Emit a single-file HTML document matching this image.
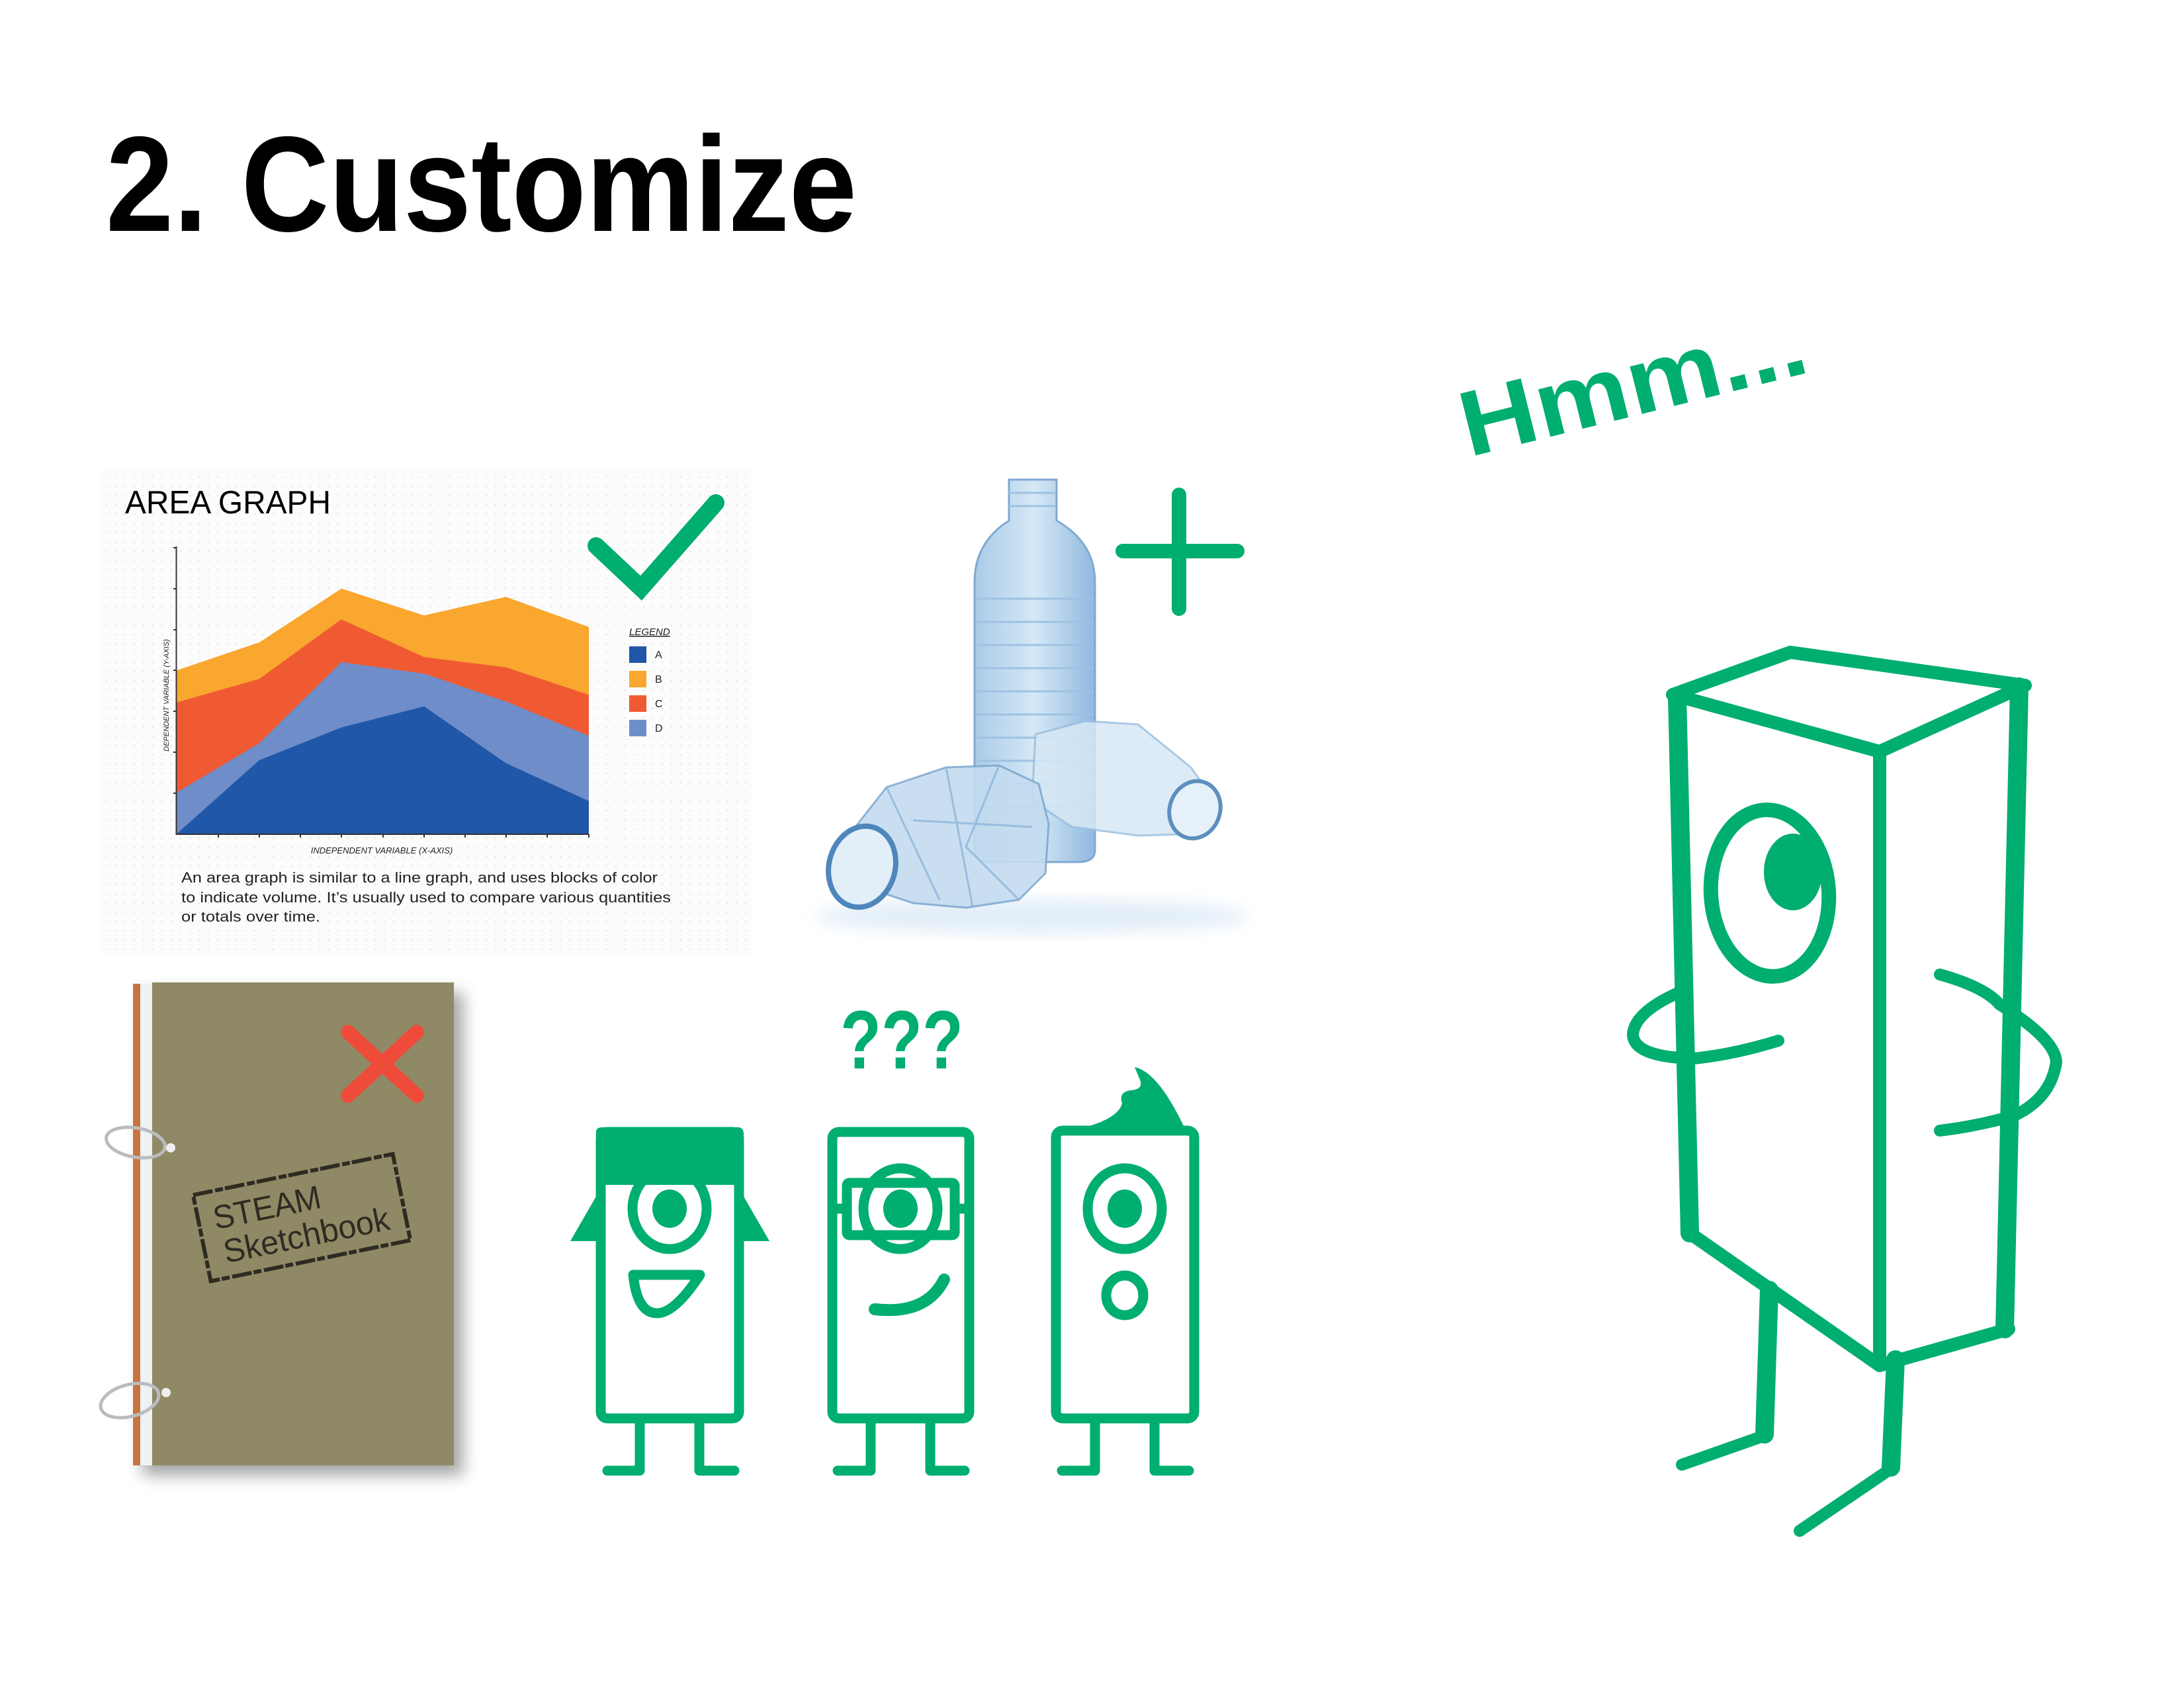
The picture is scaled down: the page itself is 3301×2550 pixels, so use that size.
<!DOCTYPE html>
<html><head><meta charset="utf-8"><style>html,body{margin:0;padding:0;background:#fff}svg{display:block}</style></head>
<body>
<svg width="3301" height="2550" viewBox="0 0 3301 2550" xmlns="http://www.w3.org/2000/svg" font-family="Liberation Sans, sans-serif">
<defs>
<pattern id="dots" width="14" height="14" patternUnits="userSpaceOnUse"><circle cx="7" cy="7" r="1.3" fill="#e6e6e6"/></pattern>
<linearGradient id="bt" x1="0" x2="1" y1="0" y2="0"><stop offset="0" stop-color="#a9cbe8"/><stop offset="0.5" stop-color="#d6e8f6"/><stop offset="1" stop-color="#8fb9de"/></linearGradient>
<filter id="sh" x="-20%" y="-20%" width="140%" height="140%"><feGaussianBlur stdDeviation="12"/></filter>
</defs>
<rect width="3301" height="2550" fill="#fff"/>

<text x="160" y="349" font-size="205" font-weight="bold" textLength="1135" lengthAdjust="spacingAndGlyphs" fill="#000">2. Customize</text>

<text x="2220" y="691" font-size="140" font-weight="bold" fill="#00ae70" transform="rotate(-14 2220 691)" textLength="535" lengthAdjust="spacingAndGlyphs">Hmm...</text>

<rect x="153" y="708" width="985" height="734" fill="#fcfcfc"/>
<rect x="153" y="708" width="985" height="734" fill="url(#dots)"/>
<text x="189" y="776" font-size="49" fill="#000" textLength="311" lengthAdjust="spacingAndGlyphs">AREA GRAPH</text>
<polygon fill="#f9a72f" points="266.5,1013.5 392,971 516,889.6 641,930.3 765,902.2 890,947.7 890,1261 266.5,1261"/>
<polygon fill="#f05a32" points="266.5,1061.9 392,1026.1 516,936.1 641,993.2 765,1008.7 890,1050.3 890,1261 266.5,1261"/>
<polygon fill="#6f8dc8" points="266.5,1198.3 392,1123.3 516,1000.9 641,1018.3 765,1060.4 890,1112.2 890,1261 266.5,1261"/>
<polygon fill="#2057a8" points="266.5,1261 392,1149 516,1099.6 641,1067.7 765,1153.8 890,1210.9 890,1261 266.5,1261"/>
<g stroke="#333" stroke-width="2" fill="none">
<path d="M266.5 826 V1261 H890"/>
<path d="M262 828h5M262 890h5M262 952h5M262 1013h5M262 1075h5M262 1137h5M262 1199h5"/>
<path d="M330 1261v5M392 1261v5M454 1261v5M516 1261v5M579 1261v5M641 1261v5M703 1261v5M765 1261v5M827 1261v5M890 1261v5"/>
</g>
<text x="577" y="1290" font-size="13" font-style="italic" text-anchor="middle" fill="#222">INDEPENDENT VARIABLE (X-AXIS)</text>
<text x="0" y="0" font-size="11" font-style="italic" text-anchor="middle" fill="#222" transform="translate(255 1051) rotate(-90)">DEPENDENT VARIABLE (Y-AXIS)</text>
<text x="951" y="960" font-size="15" font-style="italic" fill="#222" text-decoration="underline">LEGEND</text>
<rect x="951" y="977" width="26" height="25" fill="#2057a8"/>
<rect x="951" y="1014" width="26" height="25" fill="#f9a72f"/>
<rect x="951" y="1051" width="26" height="25" fill="#f05a32"/>
<rect x="951" y="1088" width="26" height="25" fill="#6f8dc8"/>
<g font-size="16" fill="#222"><text x="990" y="995">A</text><text x="990" y="1032">B</text><text x="990" y="1069">C</text><text x="990" y="1106">D</text></g>
<g font-size="22" fill="#222">
<text x="274" y="1334" textLength="720" lengthAdjust="spacingAndGlyphs">An area graph is similar to a line graph, and uses blocks of color</text>
<text x="274" y="1364" textLength="740" lengthAdjust="spacingAndGlyphs">to indicate volume. It’s usually used to compare various quantities</text>
<text x="274" y="1393" textLength="210" lengthAdjust="spacingAndGlyphs">or totals over time.</text>
</g>
<polyline points="901,825 969,889 1082,760" fill="none" stroke="#00ae70" stroke-width="26" stroke-linecap="round" stroke-linejoin="miter"/>

<ellipse cx="1560" cy="1385" rx="330" ry="26" fill="#cfe2f3" opacity="0.6" filter="url(#sh)"/>
<path d="M1525 725 H1597 V787 Q1655 820 1655 880 V1285 Q1655 1303 1630 1303 H1495 Q1473 1303 1473 1285 V880 Q1473 820 1525 787 Z" fill="url(#bt)" stroke="#7fa9d1" stroke-width="3"/>
<g stroke="#9fc1e2" stroke-width="3" fill="none"><path d="M1476 905h176M1476 940h176M1476 975h176M1476 1010h176M1476 1045h176M1476 1080h176M1476 1115h176M1476 1150h176M1476 1185h176M1476 1220h176"/><path d="M1525 745h72M1525 765h72"/></g>
<path d="M1565 1110 L1640 1090 L1720 1095 L1800 1160 L1840 1215 L1820 1260 L1720 1263 L1620 1250 L1560 1210 Z" fill="#d7e8f5" stroke="#9cc0e0" stroke-width="3" opacity="0.85"/>
<ellipse cx="1806" cy="1224" rx="38" ry="44" fill="#e6f0f9" stroke="#5d8fbf" stroke-width="6" transform="rotate(20 1806 1224)"/>
<path d="M1285 1260 L1340 1190 L1430 1160 L1510 1157 L1570 1185 L1585 1245 L1580 1320 L1540 1360 L1460 1372 L1380 1365 L1320 1345 Z" fill="#c4dcf0" stroke="#7fa9d1" stroke-width="3" opacity="0.9"/>
<g stroke="#8db4d9" stroke-width="3" fill="none" opacity="0.8"><path d="M1340 1190 L1420 1360 M1430 1160 L1470 1370 M1510 1157 L1460 1280 L1540 1360 M1380 1240 L1560 1250"/></g>
<ellipse cx="1303" cy="1310" rx="50" ry="62" fill="#e2eef8" stroke="#4f86bb" stroke-width="8" transform="rotate(15 1303 1310)"/>

<path d="M1697 833 H1870 M1782 748 V920" stroke="#00ae70" stroke-width="22" stroke-linecap="round"/>

<rect x="215" y="1500" width="485" height="730" fill="#000" opacity="0.35" filter="url(#sh)"/>
<rect x="201" y="1487" width="30" height="728" fill="#c9743f"/>
<rect x="212" y="1487" width="20" height="728" fill="#eef2f5"/>
<rect x="230" y="1485" width="456" height="730" fill="#8f8a65"/>
<g transform="rotate(-11.6 456 1840)">
<rect x="302" y="1774" width="308" height="133" fill="none" stroke="#2e2b22" stroke-width="6" stroke-dasharray="30 4 12 3"/>
<text x="325" y="1832" font-size="50" fill="#2e2b22" textLength="165" lengthAdjust="spacingAndGlyphs">STEAM</text>
<text x="330" y="1885" font-size="50" fill="#2e2b22" textLength="255" lengthAdjust="spacingAndGlyphs">Sketchbook</text>
</g>
<g fill="none" stroke="#b9bcbf" stroke-width="5">
<ellipse cx="205" cy="1727" rx="45" ry="22" transform="rotate(10 205 1727)"/>
<ellipse cx="196" cy="2117" rx="45" ry="24" transform="rotate(-15 196 2117)"/>
</g>
<circle cx="258" cy="1735" r="7" fill="#eee"/><circle cx="251" cy="2105" r="7" fill="#eee"/>
<path d="M526 1560 L630 1656 M630 1560 L526 1656" stroke="#ef4b3b" stroke-width="22" stroke-linecap="round"/>

<text x="1363" y="1615" font-size="125" font-weight="bold" text-anchor="middle" fill="#00ae70" textLength="186" lengthAdjust="spacingAndGlyphs">???</text>

<g fill="none" stroke="#00ae70" stroke-width="15" stroke-linejoin="round">
<rect x="908" y="1711" width="209" height="433" rx="10"/>
<ellipse cx="1012" cy="1827" rx="56" ry="61"/>
<path d="M957 1927 H1058 Q1020 1985 993 1985 Q963 1985 957 1927 Z"/>
<path d="M967 2151 V2223 H918 M1057 2151 V2223 H1110" stroke-linecap="round"/>
<rect x="1258" y="1711" width="207" height="433" rx="10"/>
<ellipse cx="1361" cy="1827" rx="56" ry="61"/>
<rect x="1280" y="1788" width="163" height="79" rx="4"/>
<path d="M1255 1827 H1280 M1443 1827 H1470"/>
<path d="M1322 1979 Q1400 1988 1427 1934" stroke-linecap="round" stroke-width="18"/>
<path d="M1316 2151 V2223 H1266 M1406 2151 V2223 H1458" stroke-linecap="round"/>
<rect x="1596" y="1709" width="209" height="435" rx="10"/>
<ellipse cx="1700" cy="1827" rx="56" ry="61"/>
<ellipse cx="1700" cy="1958" rx="28" ry="30"/>
<path d="M1655 2151 V2223 H1605 M1745 2151 V2223 H1797" stroke-linecap="round"/>
</g>
<g fill="#00ae70">
<path d="M901 1711 Q901 1704 910 1704 H1115 Q1124 1704 1124 1714 V1791 H901 Z"/>
<polygon points="903,1805 862,1876 903,1876"/>
<polygon points="1122,1805 1163,1876 1122,1876"/>
<ellipse cx="1012" cy="1827" rx="26" ry="29"/>
<ellipse cx="1361" cy="1827" rx="26" ry="29"/>
<ellipse cx="1700" cy="1827" rx="26" ry="29"/>
<path d="M1640 1704 Q1690 1690 1696 1668 Q1690 1650 1710 1648 Q1730 1646 1722 1630 L1715 1613 Q1750 1620 1790 1704 Z"/>
</g>

<g fill="none" stroke="#00ae70" stroke-linecap="round" stroke-linejoin="round">
<path d="M2528 1050 L2706 986 L3061 1036 L2841 1136 Z" stroke-width="20"/>
<path d="M2535 1052 L2554 1864" stroke-width="28"/>
<path d="M2554 1864 L2841 2064" stroke-width="20"/>
<path d="M2841 1136 V2064" stroke-width="20"/>
<path d="M2841 2064 L3036 2009" stroke-width="20"/>
<path d="M3052 1038 L3030 2009" stroke-width="28"/>
<ellipse cx="2675" cy="1350" rx="89" ry="126" stroke-width="22" transform="rotate(-4 2675 1350)"/>
<path d="M2538 1500 Q2470 1530 2468 1564 Q2470 1598 2560 1600 Q2620 1594 2688 1573" stroke-width="18"/>
<path d="M2932 1473 Q3000 1492 3022 1518 Q3106 1570 3108 1605 Q3100 1660 3045 1686 Q2990 1702 2932 1709" stroke-width="18"/>
<path d="M2674 1950 L2667 2168" stroke-width="28"/>
<path d="M2667 2170 L2542 2214" stroke-width="18"/>
<path d="M2865 2055 L2858 2218" stroke-width="28"/>
<path d="M2858 2220 L2720 2314" stroke-width="18"/>
</g>
<ellipse cx="2710" cy="1318" rx="44" ry="58" fill="#00ae70"/>
</svg>
</body></html>
